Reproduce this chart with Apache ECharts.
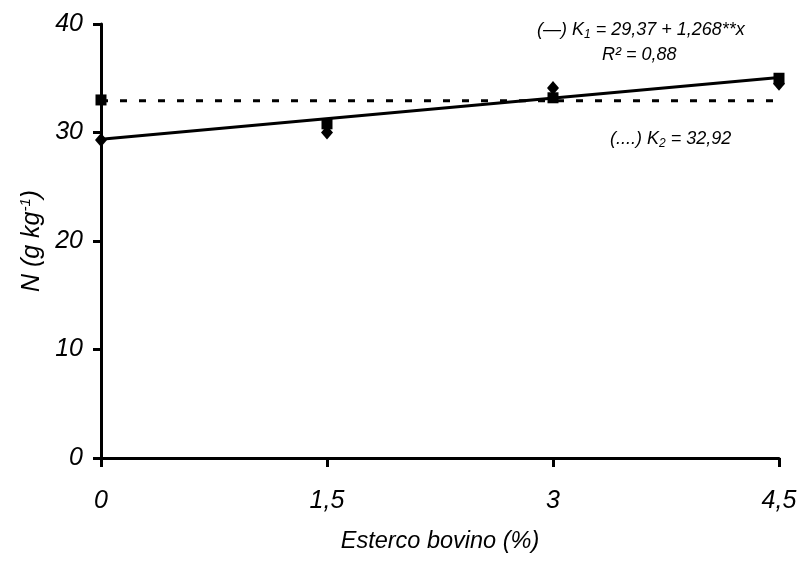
<!DOCTYPE html>
<html>
<head>
<meta charset="utf-8">
<script src="https://cdn.jsdelivr.net/npm/echarts@6/dist/echarts.min.js"></script>
<style>html,body{margin:0;padding:0;background:#fff}#c{width:800px;height:563px}</style>
</head>
<body>
<div id="c"></div>
<script>
var doses = [0, 1.5, 3, 4.5];
var k1Obs = [29.3, 30.0, 34.1, 34.5];
var k2Obs = [33.0, 30.8, 33.2, 35.0];
var k1FitX = [0, 4.5];
var k1FitY = [29.37, 35.08];
var k2Mean = 32.92;
var yTicks = [0, 10, 20, 30, 40];
var xTicks = ['0', '1,5', '3', '4,5'];

var FONT = '"Liberation Sans", Arial, sans-serif';
var chart = echarts.init(document.getElementById('c'));

function pairs(xs, ys) { return xs.map(function (x, i) { return [x, ys[i]]; }); }

chart.setOption({
  animation: false,
  backgroundColor: '#fff',
  grid: { left: 101, right: 21, top: 24, bottom: 105 },
  xAxis: {
    type: 'value', min: 0, max: 4.5, interval: 1.5,
    name: 'Esterco bovino (%)', nameLocation: 'middle', nameGap: 72,
    nameTextStyle: { fontFamily: FONT, fontStyle: 'italic', fontSize: 23.5, color: '#000' },
    axisLine: { show: true, onZero: false, lineStyle: { color: '#000', width: 3 } },
    axisTick: { show: true, length: 9, lineStyle: { color: '#000', width: 3 } },
    axisLabel: {
      margin: 31, fontFamily: FONT, fontStyle: 'italic', fontSize: 25, color: '#000',
      formatter: function (v) { var i = doses.indexOf(v); return i >= 0 ? xTicks[i] : ''; }
    },
    splitLine: { show: false }
  },
  yAxis: {
    type: 'value', min: 0, max: 40, interval: 10,
    name: 'N (g kg{sup|-1})', nameLocation: 'middle', nameGap: 55,
    nameTextStyle: {
      fontFamily: FONT, fontStyle: 'italic', fontSize: 25, color: '#000',
      rich: { sup: { fontFamily: FONT, fontStyle: 'italic', fontSize: 15, color: '#000', verticalAlign: 'top', padding: [0, 0, 12, 0] } }
    },
    axisLine: { show: true, lineStyle: { color: '#000', width: 3 } },
    axisTick: { show: true, length: 8, lineStyle: { color: '#000', width: 3 } },
    axisLabel: {
      margin: 18, fontFamily: FONT, fontStyle: 'italic', fontSize: 25, color: '#000',
      formatter: function (v) { var i = yTicks.indexOf(v); return i >= 0 ? String(yTicks[i]) : ''; }
    },
    splitLine: { show: false }
  },
  series: [
    {
      type: 'line', data: pairs(k1FitX, [k2Mean, k2Mean]), symbol: 'none',
      lineStyle: { color: '#000', width: 3, type: [7, 12] }, z: 2
    },
    {
      type: 'line', data: pairs(k1FitX, k1FitY), symbol: 'none',
      lineStyle: { color: '#000', width: 3 }, z: 3
    },
    {
      type: 'scatter', data: pairs(doses, k2Obs), symbol: 'rect', symbolSize: 11,
      itemStyle: { color: '#000', opacity: 1 }, z: 4
    },
    {
      type: 'scatter', data: pairs(doses, k1Obs), symbol: 'diamond', symbolSize: [12, 14],
      itemStyle: { color: '#000', opacity: 1 }, z: 5
    }
  ],
  graphic: [
    {
      type: 'text', left: 537, top: 21,
      style: {
        text: '(—) K{sub|1} = 29,37 + 1,268**x',
        font: 'italic 18px ' + FONT, fill: '#000',
        rich: { sub: { font: 'italic 12px ' + FONT, fill: '#000', verticalAlign: 'bottom', padding: [9, 0, 0, 0] } }
      }
    },
    {
      type: 'text', left: 602, top: 46,
      style: { text: 'R² = 0,88', font: 'italic 18px ' + FONT, fill: '#000' }
    },
    {
      type: 'text', left: 610, top: 130,
      style: {
        text: '(....) K{sub|2} = 32,92',
        font: 'italic 18px ' + FONT, fill: '#000',
        rich: { sub: { font: 'italic 12px ' + FONT, fill: '#000', verticalAlign: 'bottom', padding: [9, 0, 0, 0] } }
      }
    }
  ]
});
</script>
</body>
</html>
